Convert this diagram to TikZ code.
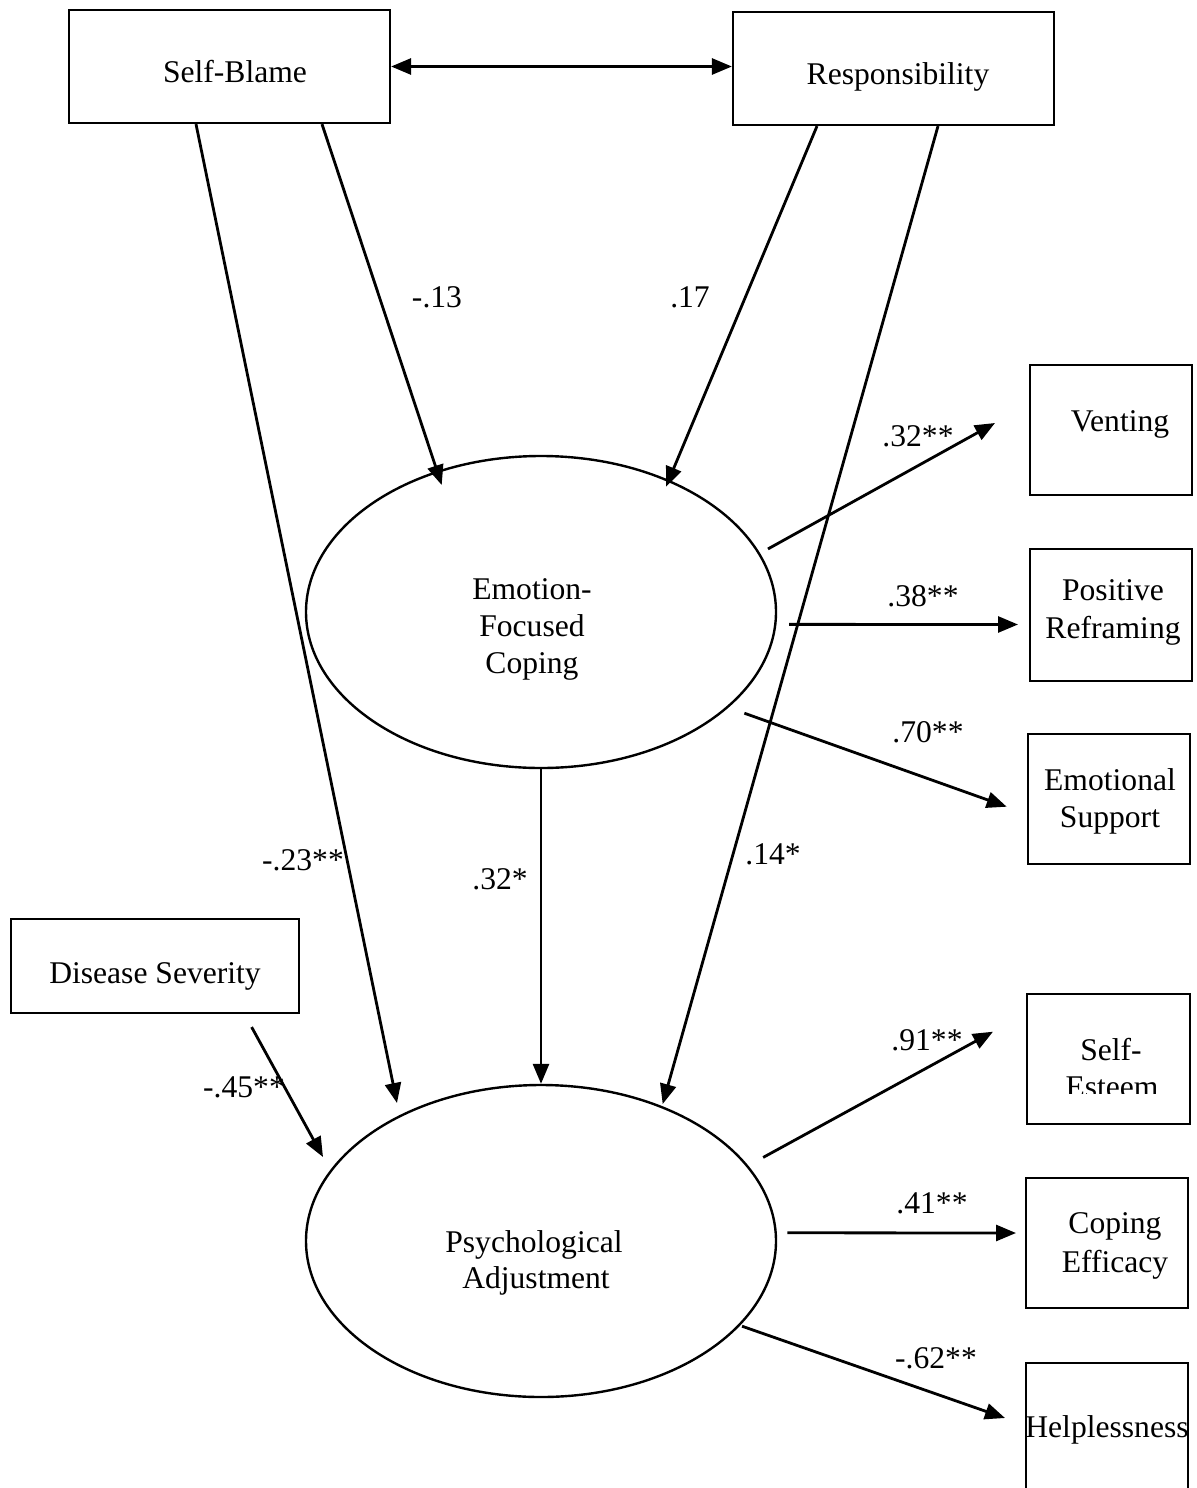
\documentclass[tikz,border=0pt]{standalone}
\usepackage{fontspec}
\setmainfont{Liberation Serif}
\usetikzlibrary{arrows.meta,shapes.geometric,calc}

\begin{document}
\begin{tikzpicture}[x=0.5pt,y=-0.5pt,
  every node/.style={font=\fontsize{15.8}{18.5}\selectfont},
  box/.style={draw,line width=1.1pt,rectangle,inner sep=0pt},
  latent/.style={draw,line width=1.2pt,ellipse,inner sep=0pt,
    minimum width=235pt,minimum height=156pt},
  txt/.style={inner sep=0pt,anchor=base},
  coef/.style={inner sep=0pt,anchor=base},
  arr/.style={line width=1.4pt,-{Triangle[length=10pt,width=8pt]}},
  dbl/.style={line width=1.4pt,{Triangle[length=10pt,width=8pt]}-{Triangle[length=10pt,width=8pt]}}
]
\useasboundingbox (0,0) rectangle (1196,1488);
\fill[white] (0,0) rectangle (1196,1488);
\clip (0,0) rectangle (1196,1488);

% exogenous variables
\node[box,minimum width=160.5pt,minimum height=56.5pt] (sb) at (229.5,66.5) {};
\node[txt] (sbT) at (235,82) {Self-Blame};
\node[box,minimum width=160.5pt,minimum height=56.5pt] (resp) at (893.5,68.5) {};
\node[txt] (respT) at (898,84) {Responsibility};
\node[box,minimum width=144pt,minimum height=47pt] (ds) at (155,966) {};
\node[txt] (dsT) at (155,983) {Disease Severity};

% latent variables
\node[latent] (efc) at (541,612) {};
\node[txt] (efcT1) at (532,599) {Emotion-};
\node[txt] (efcT2) at (532,636) {Focused};
\node[txt] (efcT3) at (532,673) {Coping};
\node[latent] (pa) at (541,1241) {};
\node[txt] (paT1) at (534,1252) {Psychological};
\node[txt] (paT2) at (536,1288) {Adjustment};

% indicators of emotion-focused coping
\node[box,minimum width=81pt,minimum height=65pt] (vent) at (1111,430) {};
\node[txt] (ventT) at (1120,431) {Venting};
\node[box,minimum width=81pt,minimum height=66pt] (pr) at (1111,615) {};
\node[txt] (prT1) at (1113,600) {Positive};
\node[txt] (prT2) at (1113,638) {Reframing};
\node[box,minimum width=81pt,minimum height=65pt] (es) at (1109,799) {};
\node[txt] (esT1) at (1110,790) {Emotional};
\node[txt] (esT2) at (1110,827) {Support};

% indicators of psychological adjustment
\node[box,minimum width=81.5pt,minimum height=65pt] (se) at (1108.5,1059) {};
\node[txt] (seT1) at (1111,1060) {Self-};
\begin{scope}
  \clip (1030,1060) rectangle (1188,1093);
  \node[txt] (seT2) at (1112,1097) {Esteem};
\end{scope}
\node[box,minimum width=81pt,minimum height=65pt] (ce) at (1107,1243) {};
\node[txt] (ceT1) at (1115,1233) {Coping};
\node[txt] (ceT2) at (1115,1272) {Efficacy};
\node[box,minimum width=81pt,minimum height=70pt,anchor=north] (hl) at (1107,1362) {};
\node[txt] (hlT) at (1107,1437) {Helplessness};

% arrow tips that stop short of (or inside) their targets
\coordinate (tSBE) at (441.7,485);
\coordinate (tREE) at (666,486.7);
\coordinate (tSBP) at (397,1103);
\coordinate (tREP) at (662.7,1104);
\coordinate (tDSP) at (323,1157);
\coordinate (tVE) at (995,423);
\coordinate (tPR) at (1018,624.5);
\coordinate (tES) at (1006.7,806.7);
\coordinate (tSE) at (993,1031.7);
\coordinate (tCE) at (1016,1233);
\coordinate (tHL) at (1005,1418);

% structural paths
\draw[dbl] (sb.east) -- (sb.east -| resp.west);
\draw[arr] ($(sb.south)+(92.5,0)$) -- (tSBE);
\draw[arr] ($(resp.south)+(-76.5,0)$) -- (tREE);
\draw[arr] ($(sb.south)+(-33.5,0)$) -- (tSBP);
\draw[arr] ($(resp.south)+(44.5,0)$) -- (tREP);
\draw[arr] (efc.south) -- (pa.north);
\draw[arr,shorten <=7.4pt] ($(ds.south)+(89.5,0)$) -- (tDSP);

% measurement paths
\draw[arr,shorten <=4.5pt] (efc.15) -- (tVE);
\draw[arr,shorten <=6.3pt] (efc.-3) -- (tPR);
\draw[arr,shorten <=8.4pt] (efc.-27) -- (tES);
\draw[arr,shorten <=8.5pt] (pa.20) -- (tSE);
\draw[arr,shorten <=5.2pt] (pa.2) -- (tCE);
\draw[arr,shorten <=1pt] (pa.-23) -- (tHL);

% path coefficients
\node[coef] (c1) at (437,307) {-.13};
\node[coef] (c2) at (690,307) {.17};
\node[coef] (c3) at (303,870) {-.23**};
\node[coef] (c4) at (500,889) {.32*};
\node[coef] (c5) at (773,864) {.14*};
\node[coef] (c6) at (244,1097) {-.45**};
\node[coef] (c7) at (918,446) {.32**};
\node[coef] (c8) at (923,606) {.38**};
\node[coef] (c9) at (928,742) {.70**};
\node[coef] (c10) at (927,1050) {.91**};
\node[coef] (c11) at (932,1213) {.41**};
\node[coef] (c12) at (936,1368) {-.62**};
\end{tikzpicture}
\end{document}
